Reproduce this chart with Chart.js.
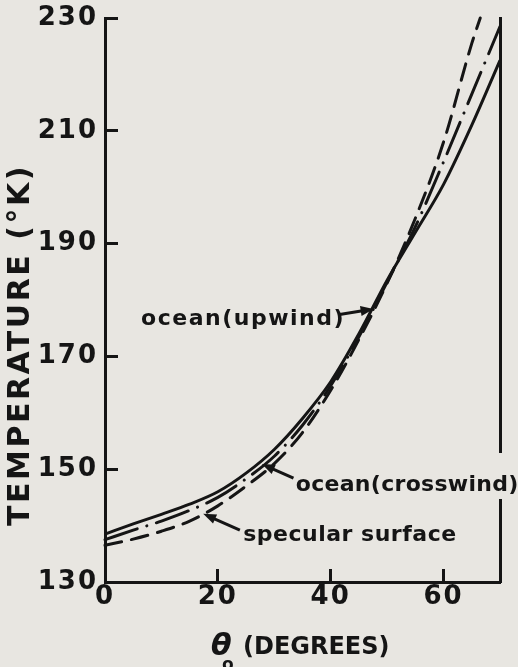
<!DOCTYPE html>
<html>
<head>
<meta charset="utf-8">
<script src="https://cdn.jsdelivr.net/npm/chart.js@4.4.0/dist/chart.umd.min.js"></script>
<style>
  html, body { margin: 0; padding: 0; background: #e8e6e1; }
  #wrap { width: 518px; height: 667px; }
</style>
</head>
<body>
<div id="wrap"><canvas id="chart" width="518" height="667"></canvas></div>
<script>
// nadir angle (deg) and brightness temperature (K)
const angles = [0, 5, 10, 15, 20, 25, 30, 35, 40, 45, 50, 55, 60, 65, 70];
const upwindTemps = [138.5, 140.3, 142, 143.8, 146, 149.3, 153.5, 159, 165.5, 174, 183.5, 192, 200.5, 211, 222.5];
const crosswindTemps = [137.5, 139.2, 140.8, 142.7, 145, 148.3, 152.3, 157.8, 164.8, 173.5, 183.2, 193, 204.5, 216.5, 228.5];
const specularAngles = [0, 5, 10, 15, 20, 25, 30, 35, 40, 45, 50, 55, 60, 65, 66.5];
const specularTemps = [136.5, 137.6, 139, 140.8, 143.5, 147, 151, 156.5, 164, 173, 183, 194.5, 208, 225.5, 230];

const xTicks = [0, 20, 40, 60];
const yTicks = [130, 150, 170, 190, 210, 230];

const INK = '#151515';
const PAPER = '#e8e6e1';

function toPoints(xs, ys) {
    return xs.map((x, i) => ({ x: x, y: ys[i] }));
}

function curve(label, xs, ys, dash) {
    return {
        label: label,
        data: toPoints(xs, ys),
        borderColor: INK,
        borderWidth: 3,
        borderDash: dash,
        borderCapStyle: dash.length ? 'round' : 'butt',
        pointRadius: 0,
        cubicInterpolationMode: 'monotone',
        fill: false,
        clip: 6
    };
}

// arrow + text callouts, anchored in data coordinates
const callouts = [
    { text: 'ocean(upwind)', at: [6.4, 176.6], from: [41.3, 177.4], to: [47.6, 178.4], spacing: 1.5 },
    { text: 'ocean(crosswind)', at: [33.8, 147.2], from: [33.4, 148.4], to: [27.8, 150.9], spacing: 0.3, knockout: true },
    { text: 'specular surface', at: [24.5, 138.2], from: [23.9, 139.2], to: [17.4, 142.1], spacing: 0.5 }
];

const decorations = {
    id: 'decorations',
    beforeDraw(chart) {
        chart.ctx.letterSpacing = '2px';
    },
    afterDraw(chart) {
        const ctx = chart.ctx;
        const xs = chart.scales.x;
        const ys = chart.scales.y;
        const px = v => xs.getPixelForValue(v);
        const py = v => ys.getPixelForValue(v);

        ctx.save();
        ctx.fillStyle = INK;
        ctx.strokeStyle = INK;

        // callouts
        ctx.font = 'bold 22px "DejaVu Sans"';
        ctx.textBaseline = 'middle';
        ctx.textAlign = 'left';
        callouts.forEach(c => {
            ctx.letterSpacing = c.spacing + 'px';
            const tx = px(c.at[0]), ty = py(c.at[1]);
            const w = ctx.measureText(c.text).width;
            if (c.knockout) {
                ctx.fillStyle = PAPER;
                ctx.fillRect(tx - 2, ty - 32, w + 6, 46);
                ctx.fillStyle = INK;
            }
            ctx.fillText(c.text, tx, ty);

            const x1 = px(c.from[0]), y1 = py(c.from[1]);
            const x2 = px(c.to[0]), y2 = py(c.to[1]);
            const ang = Math.atan2(y2 - y1, x2 - x1);
            ctx.lineWidth = 3;
            ctx.beginPath();
            ctx.moveTo(x1, y1);
            ctx.lineTo(x2 - 8 * Math.cos(ang), y2 - 8 * Math.sin(ang));
            ctx.stroke();
            ctx.beginPath();
            ctx.moveTo(x2, y2);
            ctx.lineTo(x2 - 13 * Math.cos(ang) + 5 * Math.sin(ang), y2 - 13 * Math.sin(ang) - 5 * Math.cos(ang));
            ctx.lineTo(x2 - 13 * Math.cos(ang) - 5 * Math.sin(ang), y2 - 13 * Math.sin(ang) + 5 * Math.cos(ang));
            ctx.closePath();
            ctx.fill();
        });

        // y axis title
        ctx.save();
        ctx.translate(21, 345);
        ctx.rotate(-Math.PI / 2);
        ctx.font = 'bold 30px "DejaVu Sans"';
        ctx.letterSpacing = '2.5px';
        ctx.textAlign = 'center';
        ctx.textBaseline = 'middle';
        ctx.fillText('TEMPERATURE (°K)', 0, 0);
        ctx.restore();

        // x axis title: theta with subscript o
        ctx.letterSpacing = '0px';
        ctx.textBaseline = 'alphabetic';
        ctx.textAlign = 'left';
        ctx.font = 'italic bold 30px "DejaVu Sans"';
        ctx.fillText('θ', 211, 655);
        ctx.font = 'bold 17px "DejaVu Sans"';
        ctx.fillText('o', 222, 670);
        ctx.font = 'bold 24px "DejaVu Sans"';
        ctx.fillText('(DEGREES)', 243, 654);

        ctx.restore();
        ctx.letterSpacing = '0px';
    }
};

const tickFont = { family: 'DejaVu Sans', size: 26, weight: 'bold' };
const axisGrid = {
    display: true,
    drawOnChartArea: false,
    drawTicks: true,
    tickLength: -13,
    tickWidth: 3,
    color: INK
};
const axisBorder = { display: true, color: INK, width: 3 };

// pin the plot box: left 105, right 500, top 18, bottom 582
function noOverflow(s) {
    s.paddingTop = 0;
    s.paddingBottom = 0;
    s.paddingLeft = 0;
    s.paddingRight = 0;
}

new Chart(document.getElementById('chart'), {
    type: 'line',
    data: {
        datasets: [
            curve('ocean (upwind)', angles, upwindTemps, []),
            curve('ocean (crosswind)', angles, crosswindTemps, [34, 10, 0.1, 10]),
            curve('specular surface', specularAngles, specularTemps, [17, 10])
        ]
    },
    options: {
        responsive: false,
        animation: false,
        events: [],
        layout: { padding: { top: 18, right: 0, bottom: 0, left: 0 } },
        plugins: {
            legend: { display: false },
            tooltip: { enabled: false }
        },
        scales: {
            x: {
                type: 'linear',
                min: 0,
                max: 70,
                afterBuildTicks: s => { s.ticks = xTicks.map(v => ({ value: v })); },
                afterFit: s => { s.height = 85; noOverflow(s); },
                ticks: { color: INK, font: tickFont, padding: 13, maxRotation: 0 },
                grid: axisGrid,
                border: axisBorder
            },
            y: {
                type: 'linear',
                min: 130,
                max: 230,
                afterBuildTicks: s => { s.ticks = yTicks.map(v => ({ value: v })); },
                afterFit: s => { s.width = 105; noOverflow(s); },
                ticks: { color: INK, font: tickFont, padding: 20 },
                grid: axisGrid,
                border: axisBorder
            },
            frame: {
                type: 'linear',
                position: 'right',
                min: 130,
                max: 230,
                afterFit: s => { s.width = 18; noOverflow(s); },
                ticks: { display: false },
                grid: { display: false },
                border: axisBorder
            }
        }
    },
    plugins: [decorations]
});
</script>
</body>
</html>
